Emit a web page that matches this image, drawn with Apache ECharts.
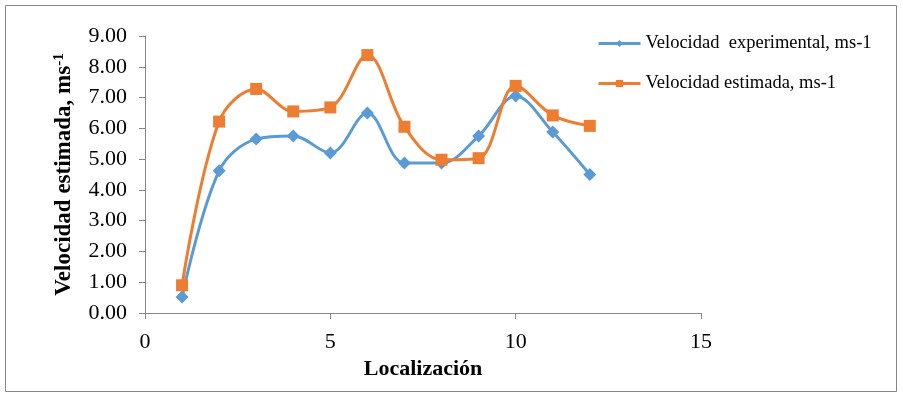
<!DOCTYPE html>
<html>
<head>
<meta charset="utf-8">
<script src="https://cdn.jsdelivr.net/npm/echarts@6/dist/echarts.min.js"></script>
<style>
  html, body { margin: 0; padding: 0; background: #fff; }
  #chart { width: 903px; height: 398px; }
</style>
</head>
<body>
<div id="chart"></div>
<script>
// Localización (x) and the two velocity series
const locations = [1, 2, 3, 4, 5, 6, 7, 8, 9, 10, 11, 12];
const velExperimental = [0.52, 4.62, 5.65, 5.75, 5.2, 6.5, 4.87, 4.87, 5.75, 7.05, 5.88, 4.5];
const velEstimada = [0.9, 6.22, 7.28, 6.55, 6.68, 8.38, 6.05, 4.98, 5.03, 7.38, 6.42, 6.08];

const serif = '"Liberation Serif", "DejaVu Serif", serif';
const axisGray = '#868686';

const toPairs = (xs, ys) => xs.map((x, i) => [x, ys[i]]);

const option = {
  animation: false,
  textStyle: { fontFamily: serif, color: '#000' },
  graphic: [{
    type: 'rect',
    shape: { x: 5.5, y: 5.5, width: 891, height: 386 },
    style: { fill: 'none', stroke: axisGray, lineWidth: 1 },
    silent: true
  }],
  grid: {
    left: 145,
    right: 202,
    top: 36,
    bottom: 85
  },
  legend: {
    orient: 'vertical',
    left: 592,
    top: 29,
    itemWidth: 42,
    itemHeight: 9,
    itemGap: 21,
    lineStyle: { width: 3 },
    textStyle: { fontFamily: serif, fontSize: 18.5, color: '#000' },
    data: ['Velocidad  experimental, ms-1', 'Velocidad estimada, ms-1']
  },
  xAxis: {
    type: 'value',
    min: 0,
    max: 15,
    interval: 5,
    name: 'Localización',
    nameLocation: 'middle',
    nameGap: 44,
    nameTextStyle: { fontFamily: serif, fontSize: 22, fontWeight: 'bold', color: '#000' },
    axisLine: { show: true, lineStyle: { color: axisGray } },
    axisTick: { show: true, length: 6, lineStyle: { color: axisGray } },
    axisLabel: { fontFamily: serif, fontSize: 22, color: '#000', margin: 18 },
    splitLine: { show: false }
  },
  yAxis: {
    type: 'value',
    min: 0,
    max: 9,
    interval: 1,
    name: 'Velocidad estimada, ms{sup|-1}',
    nameLocation: 'middle',
    nameGap: 68,
    nameTextStyle: {
      fontFamily: serif, fontSize: 23, fontWeight: 'bold', color: '#000',
      rich: {
        sup: { fontFamily: serif, fontSize: 15, fontWeight: 'bold', color: '#000', verticalAlign: 'top', padding: [0, 0, 10, 0] }
      }
    },
    axisLine: { show: true, lineStyle: { color: axisGray } },
    axisTick: { show: true, length: 6, lineStyle: { color: axisGray } },
    axisLabel: {
      fontFamily: serif, fontSize: 22, color: '#000', margin: 18,
      formatter: v => v.toFixed(2)
    },
    splitLine: { show: false }
  },
  series: [{
    name: 'Velocidad  experimental, ms-1',
    type: 'line',
    smooth: 0.35,
    data: toPairs(locations, velExperimental),
    symbol: 'diamond',
    symbolSize: 13,
    color: '#5B9BD5',
    lineStyle: { width: 3, color: '#5B9BD5' },
    itemStyle: { color: '#5B9BD5' }
  }, {
    name: 'Velocidad estimada, ms-1',
    type: 'line',
    smooth: 0.35,
    data: toPairs(locations, velEstimada),
    symbol: 'rect',
    symbolSize: 12,
    color: '#ED7D31',
    lineStyle: { width: 3, color: '#ED7D31' },
    itemStyle: { color: '#ED7D31' }
  }]
};

const chart = echarts.init(document.getElementById('chart'));
chart.setOption(option);
</script>
</body>
</html>
